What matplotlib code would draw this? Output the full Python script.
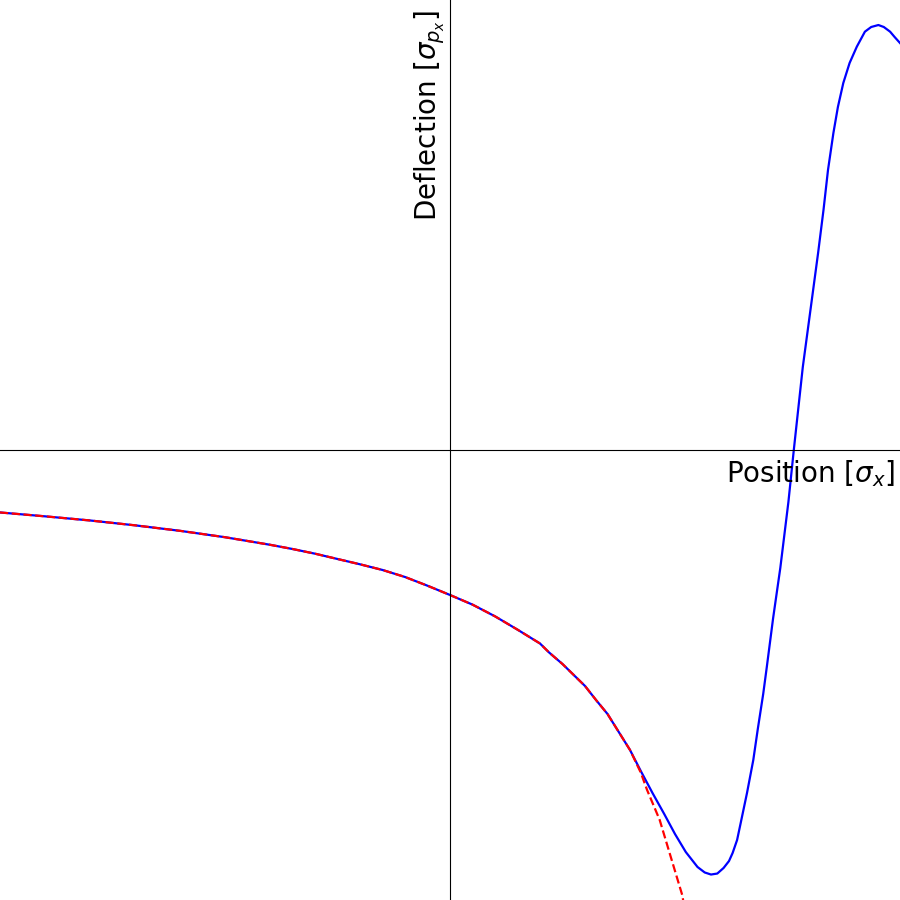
import matplotlib
matplotlib.use("Agg")
import matplotlib.pyplot as plt

# Position [sigma_x] and deflection [sigma_px] (full model)
x_full = [-5.0, -4.5, -4.0, -3.5, -3.0, -2.5, -2.0, -1.75, -1.5, -1.25, -1.0,
          -0.75, -0.5, -0.25, 0.0, 0.25, 0.5, 0.75, 1.0, 1.1, 1.25, 1.375, 1.5,
          1.625, 1.75, 1.875, 2.0, 2.12, 2.25, 2.38, 2.5, 2.62, 2.75, 2.83,
          2.9, 2.97, 3.04, 3.1, 3.14, 3.19, 3.23, 3.3, 3.37, 3.42, 3.48, 3.52,
          3.59, 3.67, 3.76, 3.82, 3.92, 4.02, 4.09, 4.15, 4.2, 4.26, 4.31,
          4.37, 4.44, 4.52, 4.61, 4.68, 4.76, 4.82, 4.89, 4.94, 5.0]
y_full = [-0.694, -0.737, -0.783, -0.837, -0.898, -0.969, -1.053, -1.100,
          -1.152, -1.211, -1.270, -1.333, -1.411, -1.508, -1.611, -1.718,
          -1.848, -1.996, -2.150, -2.249, -2.378, -2.500, -2.622, -2.781,
          -2.933, -3.133, -3.333, -3.567, -3.811, -4.044, -4.267, -4.467,
          -4.633, -4.694, -4.717, -4.706, -4.644, -4.567, -4.478, -4.333,
          -4.144, -3.811, -3.444, -3.100, -2.711, -2.411, -1.870, -1.311,
          -0.578, 0.000, 0.922, 1.667, 2.189, 2.667, 3.111, 3.522, 3.811,
          4.078, 4.300, 4.481, 4.648, 4.700, 4.722, 4.700, 4.648, 4.589,
          4.522]

# Asymptotic approximation (red dashed)
x_approx = [-5.0, -4.5, -4.0, -3.5, -3.0, -2.5, -2.0, -1.75, -1.5, -1.25, -1.0,
            -0.75, -0.5, -0.25, 0.0, 0.25, 0.5, 0.75, 1.0, 1.1, 1.25, 1.375,
            1.5, 1.625, 1.75, 1.875, 2.0, 2.12, 2.19, 2.33, 2.44, 2.58, 2.6]
y_approx = [-0.694, -0.737, -0.783, -0.837, -0.898, -0.969, -1.053, -1.100,
            -1.152, -1.211, -1.270, -1.333, -1.411, -1.508, -1.611, -1.718,
            -1.848, -1.996, -2.150, -2.249, -2.378, -2.500, -2.622, -2.781,
            -2.933, -3.133, -3.333, -3.585, -3.778, -4.111, -4.478, -4.944,
            -5.056]

fig = plt.figure(figsize=(9, 9), dpi=100)
ax = fig.add_axes([0, 0, 1, 1])

ax.plot(x_full, y_full, color="blue", lw=1.6)
ax.plot(x_approx, y_approx, color="red", lw=1.6, ls="--")

ax.set_xlim(-5, 5)
ax.set_ylim(-5, 5)

for side in ("top", "right"):
    ax.spines[side].set_visible(False)
ax.spines["left"].set_position("center")
ax.spines["bottom"].set_position("center")
ax.spines["left"].set_linewidth(0.8)
ax.spines["bottom"].set_linewidth(0.8)
ax.set_xticks([])
ax.set_yticks([])

ax.text(895 / 900, 1 - 474 / 900, r"Position [$\sigma_x$]", transform=ax.transAxes,
        ha="right", va="center", fontsize=20)
ax.text(430 / 900, 1 - 10 / 900, r"Deflection [$\sigma_{p_x}$]", transform=ax.transAxes,
        ha="center", va="top", rotation=90, fontsize=20)

fig.savefig("out.png", dpi=100)
